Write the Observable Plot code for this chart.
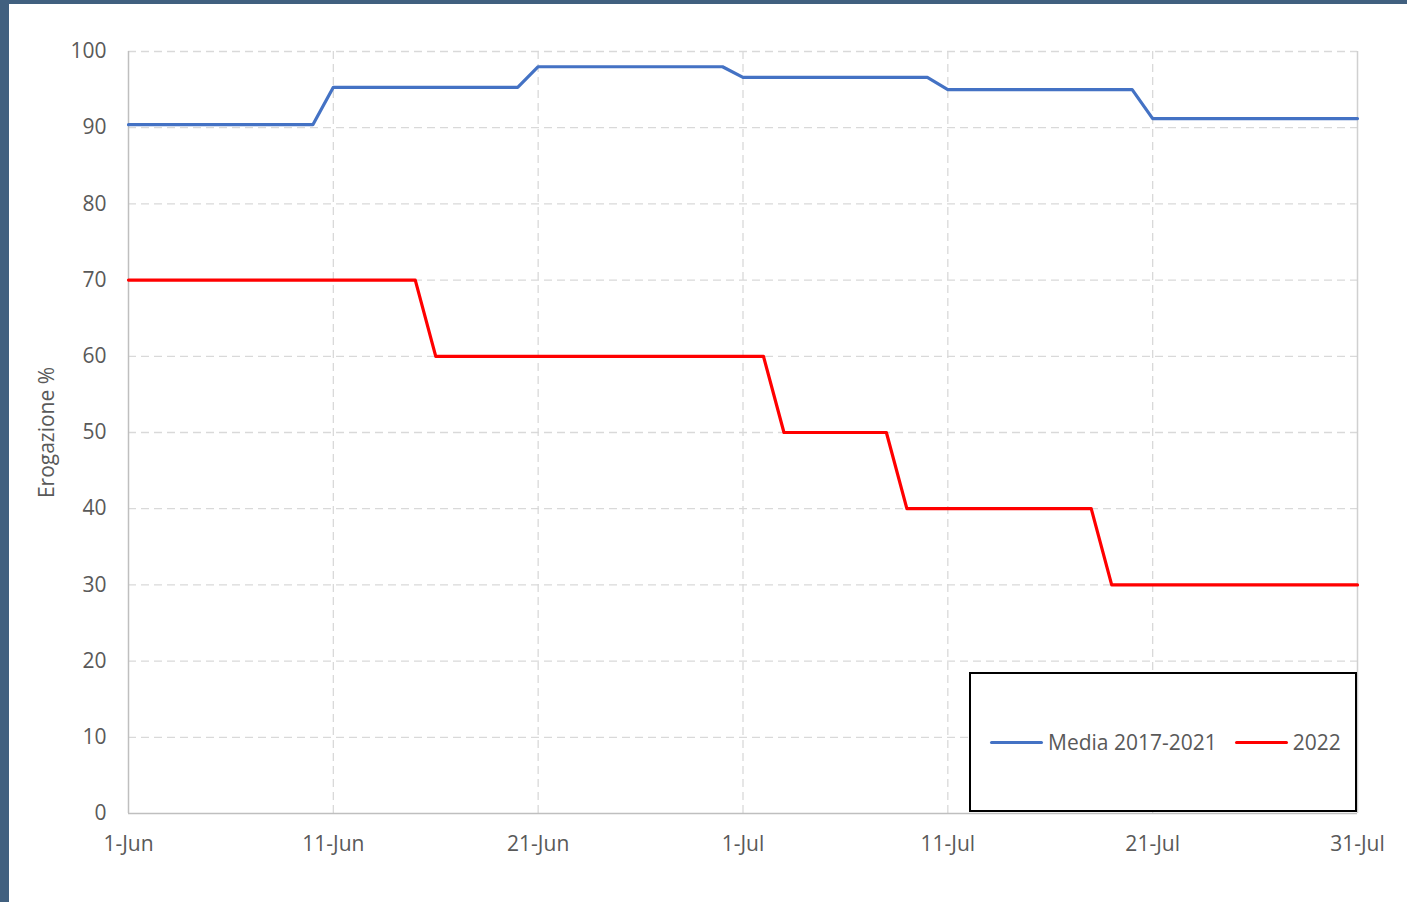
<!DOCTYPE html>
<html>
<head>
<meta charset="utf-8">
<script src="https://cdn.jsdelivr.net/npm/d3@7"></script>
<script src="https://cdn.jsdelivr.net/npm/@observablehq/plot@0.6"></script>
<style>
  html, body { margin: 0; padding: 0; background: #fff; }
  #wrap { position: relative; width: 1407px; height: 902px; overflow: hidden; font-family: "Open Sans", sans-serif; }
  #borderL { position: absolute; left: 0; top: 0; width: 9px; height: 902px; background: #41607F; }
  #borderT { position: absolute; left: 0; top: 0; width: 1407px; height: 4px; background: #41607F; }
  #legend { position: absolute; left: 969px; top: 672px; width: 384px; height: 136px; border: 2px solid #000; background: #fff;
            display: flex; align-items: center; font-size: 21px; color: #595959; }
  .item { display: flex; align-items: center; }
  .sw { width: 53px; height: 3px; border-radius: 2px; margin-right: 5px; }
</style>
</head>
<body>
<div id="wrap">
  <div id="chart"></div>
  <div id="borderL"></div>
  <div id="borderT"></div>
  <div id="legend">
    <div class="item" style="margin-left:19px"><div class="sw" style="background:#4472C4"></div><span>Media 2017-2021</span></div>
    <div class="item" style="margin-left:18px"><div class="sw" style="background:#FF0000"></div><span>2022</span></div>
  </div>
</div>
<script>
// Daily values, 1 Jun – 31 Jul 2022
const days = d3.utcDay.range(new Date(Date.UTC(2022, 5, 1)), new Date(Date.UTC(2022, 7, 1)));
const media = [
  90.4, 90.4, 90.4, 90.4, 90.4, 90.4, 90.4, 90.4, 90.4, 90.4,
  95.3, 95.3, 95.3, 95.3, 95.3, 95.3, 95.3, 95.3, 95.3, 95.3,
  98.0, 98.0, 98.0, 98.0, 98.0, 98.0, 98.0, 98.0, 98.0, 98.0,
  96.6, 96.6, 96.6, 96.6, 96.6, 96.6, 96.6, 96.6, 96.6, 96.6,
  95.0, 95.0, 95.0, 95.0, 95.0, 95.0, 95.0, 95.0, 95.0, 95.0,
  91.2, 91.2, 91.2, 91.2, 91.2, 91.2, 91.2, 91.2, 91.2, 91.2, 91.2
];
const y2022 = [
  70, 70, 70, 70, 70, 70, 70, 70, 70, 70, 70, 70, 70, 70, 70,
  60, 60, 60, 60, 60, 60, 60, 60, 60, 60, 60, 60, 60, 60, 60, 60, 60,
  50, 50, 50, 50, 50, 50,
  40, 40, 40, 40, 40, 40, 40, 40, 40, 40,
  30, 30, 30, 30, 30, 30, 30, 30, 30, 30, 30, 30, 30
];
const xTickDates = [
  new Date(Date.UTC(2022, 5, 1)), new Date(Date.UTC(2022, 5, 11)), new Date(Date.UTC(2022, 5, 21)),
  new Date(Date.UTC(2022, 6, 1)), new Date(Date.UTC(2022, 6, 11)), new Date(Date.UTC(2022, 6, 21)),
  new Date(Date.UTC(2022, 6, 31))
];
const yTicks = [0, 10, 20, 30, 40, 50, 60, 70, 80, 90, 100];
const monthNames = ["Jan","Feb","Mar","Apr","May","Jun","Jul","Aug","Sep","Oct","Nov","Dec"];

const dataMedia = days.map((d, i) => ({date: d, value: media[i]}));
const data2022 = days.map((d, i) => ({date: d, value: y2022[i]}));
const x0 = days[0], x1 = days[days.length - 1];

const grid = "#D9D9D9";
const axisCol = "#BFBFBF";

const plot = Plot.plot({
  width: 1407,
  height: 902,
  marginLeft: 128,
  marginRight: 50,
  marginTop: 51,
  marginBottom: 89,
  style: { fontFamily: "'Open Sans', sans-serif", fontSize: "21px", color: "#595959", background: "transparent" },
  x: { type: "utc", domain: [x0, x1] },
  y: { domain: [0, 100] },
  marks: [
    Plot.ruleY(yTicks.filter(t => t > 0), { stroke: grid, strokeWidth: 1.3, strokeDasharray: "8,5" }),
    Plot.ruleX(xTickDates.slice(1, -1), { stroke: grid, strokeWidth: 1.3, strokeDasharray: "8,5" }),
    Plot.ruleX([x1], { stroke: "#D0D0D0", strokeWidth: 1.5 }),
    Plot.ruleX([x0], { stroke: axisCol, strokeWidth: 1.5 }),
    Plot.ruleY([0], { stroke: axisCol, strokeWidth: 1.5 }),
    Plot.axisY({ ticks: yTicks, tickSize: 0, tickPadding: 22, label: null, fill: "#595959", fontSize: 21 }),
    Plot.axisX({ ticks: xTickDates, tickSize: 0, tickPadding: 23, label: null, fill: "#595959", fontSize: 21,
                 tickFormat: d => `${d.getUTCDate()}-${monthNames[d.getUTCMonth()]}` }),
    Plot.text(["Erogazione %"], { frameAnchor: "left", textAnchor: "middle", dx: -81, rotate: -90, fontSize: 21, fill: "#595959" }),
    Plot.line(dataMedia, { x: "date", y: "value", stroke: "#4472C4", strokeWidth: 3.2, strokeLinejoin: "round", strokeLinecap: "round" }),
    Plot.line(data2022, { x: "date", y: "value", stroke: "#FF0000", strokeWidth: 3.2, strokeLinejoin: "round", strokeLinecap: "round" })
  ]
});
document.getElementById("chart").appendChild(plot);
</script>
</body>
</html>
